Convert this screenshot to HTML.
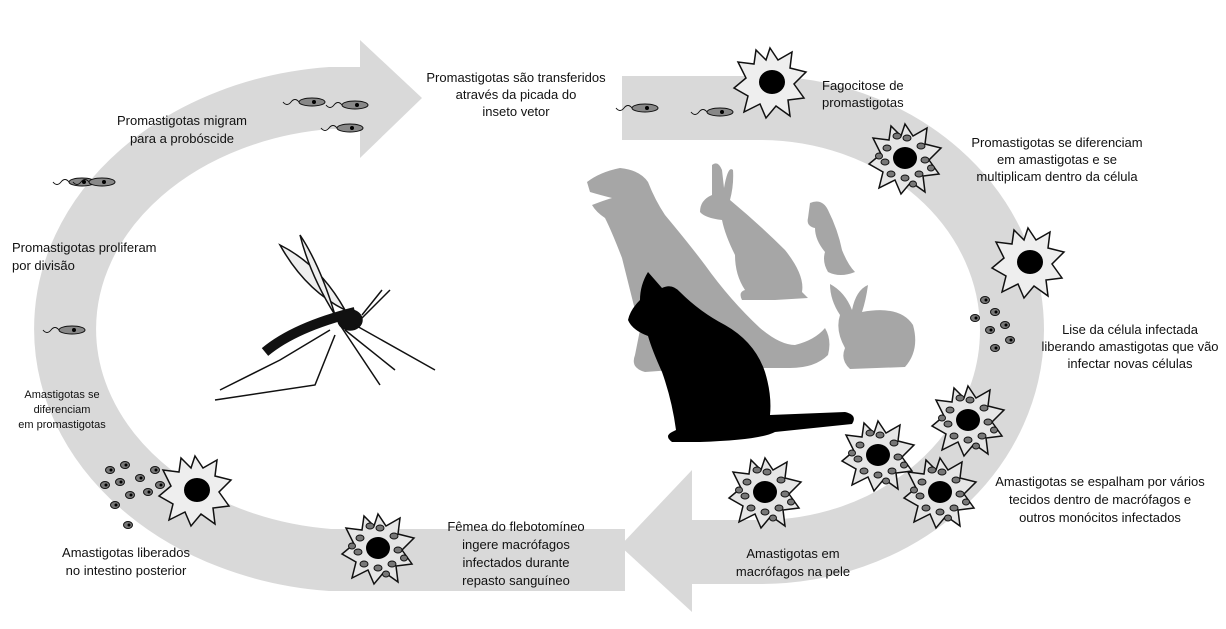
<!DOCTYPE html>
<html><head><meta charset="utf-8"><style>
html,body{margin:0;padding:0;background:#fff}
svg{display:block}
text{font-family:"Liberation Sans",sans-serif;font-size:13px;fill:#111}
</style></head><body>
<svg width="1226" height="629" viewBox="0 0 1226 629" xmlns="http://www.w3.org/2000/svg">
<defs>
<g id="cell">
<polygon points="0,-34 8,-22 22,-30 20,-14 36,-10 24,2 34,16 18,18 20,34 6,24 -4,36 -10,22 -26,30 -22,14 -36,6 -24,-4 -32,-20 -16,-18 -14,-32 -4,-22" fill="#e6e6e6" stroke="#111" stroke-width="1.5"/>
<ellipse cx="0" cy="0" rx="12" ry="11" fill="#000"/>
<g fill="#777" stroke="#111" stroke-width="1">
<ellipse cx="-18" cy="-10" rx="4" ry="3"/><ellipse cx="-20" cy="4" rx="4" ry="3"/><ellipse cx="-14" cy="16" rx="4" ry="3"/>
<ellipse cx="0" cy="20" rx="4" ry="3"/><ellipse cx="14" cy="16" rx="4" ry="3"/><ellipse cx="20" cy="2" rx="4" ry="3"/>
<ellipse cx="16" cy="-12" rx="4" ry="3"/><ellipse cx="2" cy="-20" rx="4" ry="3"/><ellipse cx="-8" cy="-22" rx="4" ry="3"/>
<ellipse cx="-26" cy="-2" rx="3.5" ry="3"/><ellipse cx="26" cy="10" rx="3.5" ry="3"/><ellipse cx="8" cy="26" rx="3.5" ry="3"/>
</g>
</g>
<g id="lcell">
<polygon points="0,-34 8,-22 22,-30 20,-14 36,-10 24,2 34,16 18,18 20,34 6,24 -4,36 -10,22 -26,30 -22,14 -36,6 -24,-4 -32,-20 -16,-18 -14,-32 -4,-22" fill="#eee" stroke="#111" stroke-width="1.5"/>
<ellipse cx="2" cy="0" rx="13" ry="12" fill="#000"/>
</g>
<g id="promo"><ellipse cx="0" cy="0" rx="13" ry="4" fill="#888" stroke="#111"/><circle cx="2" cy="0" r="2" fill="#000"/><path d="M-13,0 q-4,-5 -8,0 t-8,0" fill="none" stroke="#111"/></g>
<g id="am"><ellipse cx="0" cy="0" rx="4.5" ry="3.5" fill="#777" stroke="#111"/><circle cx="1" cy="0" r="1.5" fill="#000"/></g>
</defs>

<path d="M 625 560 L 330 560 A 292 232 0 0 1 330 98 L 362 98" fill="none" stroke="#d9d9d9" stroke-width="62"/>
<polygon points="360,40 422,98 360,158" fill="#d9d9d9"/>
<path d="M 622 108 L 760 108 A 252 222 0 0 1 760 552 L 690 552" fill="none" stroke="#d9d9d9" stroke-width="64"/>
<polygon points="692,470 620,546 692,612" fill="#d9d9d9"/>

<!-- animals -->
<g fill="#a6a6a6">
<path d="M587,182 Q600,172 620,168 Q640,170 648,182 Q655,200 665,215 Q690,245 705,265 Q730,300 760,328 Q780,345 795,345 Q815,340 825,328 Q832,340 828,355 Q815,368 790,368 L740,368 L700,368 L645,372 Q630,368 635,355 L640,330 Q630,290 622,258 Q612,232 605,218 Q596,212 592,205 Q605,200 612,198 Q600,195 590,192 Z"/>
<path d="M712,165 Q718,160 722,170 L724,188 Q728,165 733,170 Q734,185 730,200 Q760,225 785,250 Q805,275 802,292 L808,298 L775,300 L742,300 Q738,292 745,290 Q735,275 735,255 Q725,235 722,220 Q705,218 700,212 Q700,200 712,195 Z"/>
<path d="M810,203 Q822,198 828,210 Q838,230 842,250 Q848,265 855,272 Q840,278 828,272 Q822,262 825,252 Q815,240 815,228 Q806,226 808,218 Z"/>
<path d="M830,284 Q845,292 852,310 Q856,290 868,285 Q866,300 862,312 Q900,305 913,325 Q920,350 905,367 L850,369 Q840,360 845,348 Q835,330 840,315 Q830,300 830,284 Z"/>
</g>
<path d="M648,272 L662,288 Q672,283 680,292 Q700,312 725,325 Q755,342 765,372 Q772,395 770,415 L845,412 Q858,415 852,424 L775,432 Q760,440 700,442 L672,442 Q664,436 672,432 L676,430 Q672,400 662,372 Q652,350 648,336 Q632,330 628,320 Q630,310 640,300 Q640,285 648,272 Z" fill="#000"/>

<!-- mosquito -->
<g stroke="#111" fill="none" stroke-width="1.5">
<path d="M265,352 q30,-25 90,-40" stroke-width="10"/>
<ellipse cx="350" cy="320" rx="12" ry="10" fill="#111"/>
<path d="M280,245 q40,20 65,65 q-40,-20 -65,-65z" fill="#eee"/>
<path d="M300,235 q20,30 35,80 q-25,-40 -35,-80z" fill="#eee"/>
<path d="M340,325 l40,60 M345,330 l50,40 M335,335 l-20,50 l-100,15 M330,330 l-50,30 l-60,30 M360,320 l30,-30 M362,315 l20,-25 M355,325 l80,45"/>
</g>

<use href="#lcell" x="770" y="82"/>
<use href="#cell" x="905" y="158"/>
<use href="#lcell" x="1028" y="262"/>
<use href="#cell" x="968" y="420"/>
<use href="#cell" x="878" y="455"/>
<use href="#cell" x="940" y="492"/>
<use href="#cell" x="765" y="492"/>
<use href="#cell" x="378" y="548"/>
<use href="#lcell" x="195" y="490"/>

<use href="#promo" x="355" y="105"/><use href="#promo" x="312" y="102"/><use href="#promo" x="350" y="128"/>
<use href="#promo" x="645" y="108"/><use href="#promo" x="720" y="112"/>
<use href="#promo" x="82" y="182"/><use href="#promo" x="102" y="182"/><use href="#promo" x="72" y="330"/>
<g>
<use href="#am" x="985" y="300"/><use href="#am" x="995" y="312"/><use href="#am" x="975" y="318"/><use href="#am" x="990" y="330"/><use href="#am" x="1005" y="325"/><use href="#am" x="1010" y="340"/><use href="#am" x="995" y="348"/>
<use href="#am" x="110" y="470"/><use href="#am" x="125" y="465"/><use href="#am" x="105" y="485"/><use href="#am" x="120" y="482"/><use href="#am" x="140" y="478"/><use href="#am" x="130" y="495"/><use href="#am" x="148" y="492"/><use href="#am" x="115" y="505"/><use href="#am" x="155" y="470"/><use href="#am" x="128" y="525"/><use href="#am" x="160" y="485"/>
</g>

<g text-anchor="middle">
<text x="516" y="82">Promastigotas são transferidos</text>
<text x="516" y="99">através da picada do</text>
<text x="516" y="116">inseto vetor</text>
<text x="1057" y="147">Promastigotas se diferenciam</text>
<text x="1057" y="164">em amastigotas e se</text>
<text x="1057" y="181">multiplicam dentro da célula</text>
<text x="1130" y="334">Lise da célula infectada</text>
<text x="1130" y="351">liberando amastigotas que vão</text>
<text x="1130" y="368">infectar novas células</text>
<text x="1100" y="486">Amastigotas se espalham por vários</text>
<text x="1100" y="504">tecidos dentro de macrófagos e</text>
<text x="1100" y="522">outros monócitos infectados</text>
<text x="793" y="558">Amastigotas em</text>
<text x="793" y="576">macrófagos na pele</text>
<text x="516" y="531">Fêmea do flebotomíneo</text>
<text x="516" y="549">ingere macrófagos</text>
<text x="516" y="567">infectados durante</text>
<text x="516" y="585">repasto sanguíneo</text>
<text x="126" y="557">Amastigotas liberados</text>
<text x="126" y="575">no intestino posterior</text>
<text x="182" y="125">Promastigotas migram</text>
<text x="182" y="143">para a probóscide</text>
<text x="62" y="398" style="font-size:11px">Amastigotas se</text>
<text x="62" y="413" style="font-size:11px">diferenciam</text>
<text x="62" y="428" style="font-size:11px">em promastigotas</text>
</g>
<text x="822" y="90">Fagocitose de</text>
<text x="822" y="107">promastigotas</text>
<text x="12" y="252">Promastigotas proliferam</text>
<text x="12" y="270">por divisão</text>
</svg>
</body></html>
